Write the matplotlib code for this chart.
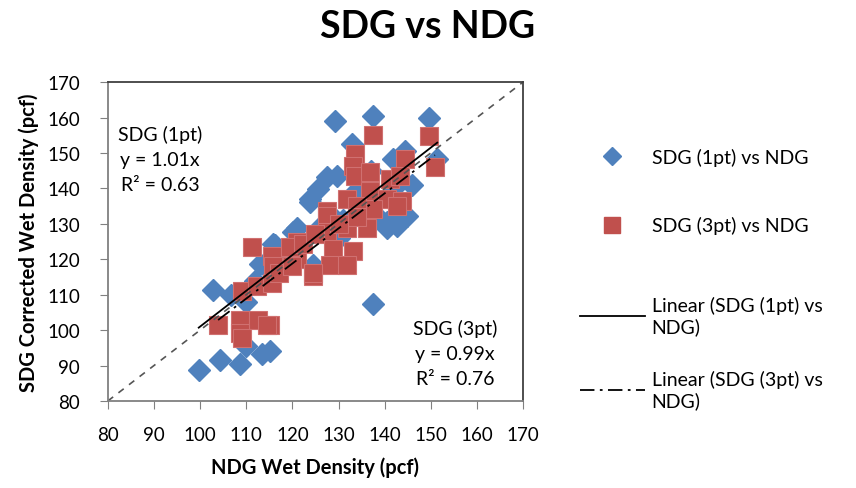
import matplotlib
matplotlib.use("Agg")
import matplotlib.pyplot as plt
from matplotlib.lines import Line2D
import numpy as np

# SDG (1pt) gegen NDG
ndg_1pt = [99.7, 104.3, 108.6, 102.8, 106.7, 109.9, 113.4, 115.1, 113.8, 116.2,
           124.5, 110.0, 129.2, 137.5, 149.6, 132.9, 144.4, 141.8, 125.5, 123.8,
           127.5, 129.7, 151.4, 143.3, 140.5, 142.7, 138.4, 144.9, 140.5, 121.0,
           123.8, 137.5, 120.1, 115.8, 113.0, 126.0, 130.0, 133.0, 135.0, 118.0,
           112.0, 128.0, 131.0, 142.0, 137.0, 146.0]
sdg_1pt = [88.7, 91.5, 90.4, 111.2, 109.8, 95.5, 93.2, 94.1, 118.3, 123.9,
           118.3, 108.0, 159.0, 160.4, 159.9, 152.5, 150.6, 148.3, 139.9, 137.1,
           143.3, 143.6, 148.3, 131.5, 130.6, 129.5, 132.3, 132.3, 128.7, 128.7,
           136.3, 107.3, 127.8, 124.4, 118.8, 129.0, 126.0, 138.0, 141.0, 121.0,
           114.0, 133.0, 131.0, 140.0, 145.0, 141.0]

# SDG (3pt) gegen NDG
ndg_3pt = [137.5, 149.6, 150.9, 144.4, 133.6, 133.1, 133.6, 136.8, 141.2, 143.3,
           127.5, 131.8, 136.8, 140.5, 143.8, 137.5, 134.0, 127.5, 127.5, 131.8,
           136.2, 142.7, 128.8, 133.1, 128.2, 131.8, 124.5, 121.0, 121.0, 111.2,
           115.6, 119.5, 115.8, 122.3, 124.5, 109.1, 112.3, 115.6, 103.9, 108.6,
           112.5, 115.1, 108.6, 109.1, 114.5, 130.0, 134.0, 125.0, 117.0, 120.0]
sdg_3pt = [155.1, 154.8, 146.1, 148.3, 149.8, 146.4, 143.6, 144.7, 142.7, 143.6,
           133.7, 137.1, 139.3, 137.1, 136.5, 134.3, 135.1, 132.3, 127.8, 128.7,
           128.7, 135.1, 123.0, 122.2, 118.3, 118.3, 115.4, 120.2, 125.0, 123.6,
           120.8, 123.6, 118.0, 124.4, 116.0, 111.0, 112.4, 113.2, 101.4, 102.8,
           102.8, 101.4, 99.1, 97.7, 101.4, 130.0, 132.0, 127.0, 116.0, 118.0]

steigung_1pt = 1.01
steigung_3pt = 0.99
r2_1pt = 0.63
r2_3pt = 0.76

blau = "#4F81BD"
rot = "#C0504D"
strichpunkt = (0, (8, 3, 1.5, 3))

plt.rcParams['font.family'] = ['Lato', 'DejaVu Sans']

fig = plt.figure(figsize=(8.56, 4.89), dpi=100)
ax = fig.add_axes([0.126, 0.178, 0.485, 0.652])

ax.plot(ndg_1pt, sdg_1pt, linestyle="none", marker="D", markersize=11,
        color=blau, markeredgecolor=blau)
ax.plot(ndg_3pt, sdg_3pt, linestyle="none", marker="s", markersize=13,
        color=rot, markeredgecolor="#D07070", markeredgewidth=0.8)

# 1:1 Linie
ax.plot([80, 170], [80, 170], linestyle=(0, (4, 4)), color="#555555", linewidth=1.2)

# Trendlinien durch den Ursprung
x1 = np.array([min(ndg_1pt), max(ndg_1pt)])
ax.plot(x1, steigung_1pt * x1, color="black", linewidth=1.3)
x3 = np.array([min(ndg_3pt), max(ndg_3pt)])
ax.plot(x3, steigung_3pt * x3, color="black", linewidth=1.3, linestyle=strichpunkt)

ax.set_xlim(80, 170)
ax.set_ylim(80, 170)
ax.set_xticks(range(80, 171, 10))
ax.set_yticks(range(80, 171, 10))
ax.tick_params(direction="out", length=6, labelsize=13.5, color="#808080")
ax.tick_params(axis="y", pad=14)
ax.tick_params(axis="x", pad=12)
for sp in ax.spines.values():
    sp.set_color("#808080")
    sp.set_linewidth(1.3)
ax.spines["top"].set_color("#404040")
ax.spines["right"].set_color("#404040")

ax.set_xlabel("NDG Wet Density (pcf)", fontsize=14.5, fontweight="bold", labelpad=10)
ax.set_ylabel("SDG Corrected Wet Density (pcf)", fontsize=14.5, fontweight="bold", labelpad=6)

ax.text(91.3, 148.3, "SDG (1pt)\ny = %.2fx\nR² = %.2f" % (steigung_1pt, r2_1pt),
        ha="center", va="center", fontsize=14, linespacing=1.55)
ax.text(155.3, 93.5, "SDG (3pt)\ny = %.2fx\nR² = %.2f" % (steigung_3pt, r2_3pt),
        ha="center", va="center", fontsize=14, linespacing=1.55)

fig.suptitle("SDG vs NDG", fontsize=27, fontweight="bold", y=0.98)

# Legende in drei Teilen, damit die Abstände wie im Original passen
leg_opts = dict(loc="upper left", frameon=False, fontsize=14, handlelength=3.35,
                handletextpad=0.36, borderaxespad=0, borderpad=0)
leg1 = fig.legend(
    [Line2D([], [], linestyle="none", marker="D", markersize=9, color=blau),
     Line2D([], [], linestyle="none", marker="s", markersize=11, color=rot)],
    ["SDG (1pt) vs NDG", "SDG (3pt) vs NDG"],
    bbox_to_anchor=(0.677, 0.696), labelspacing=2.6, **leg_opts)
leg2 = fig.legend([Line2D([], [], color="black", linewidth=1.3)],
                  ["Linear (SDG (1pt) vs\nNDG)"],
                  bbox_to_anchor=(0.677, 0.392), **leg_opts)
leg3 = fig.legend([Line2D([], [], color="black", linewidth=1.3, linestyle=strichpunkt)],
                  ["Linear (SDG (3pt) vs\nNDG)"],
                  bbox_to_anchor=(0.677, 0.241), **leg_opts)

fig.savefig("out.png", dpi=100)
